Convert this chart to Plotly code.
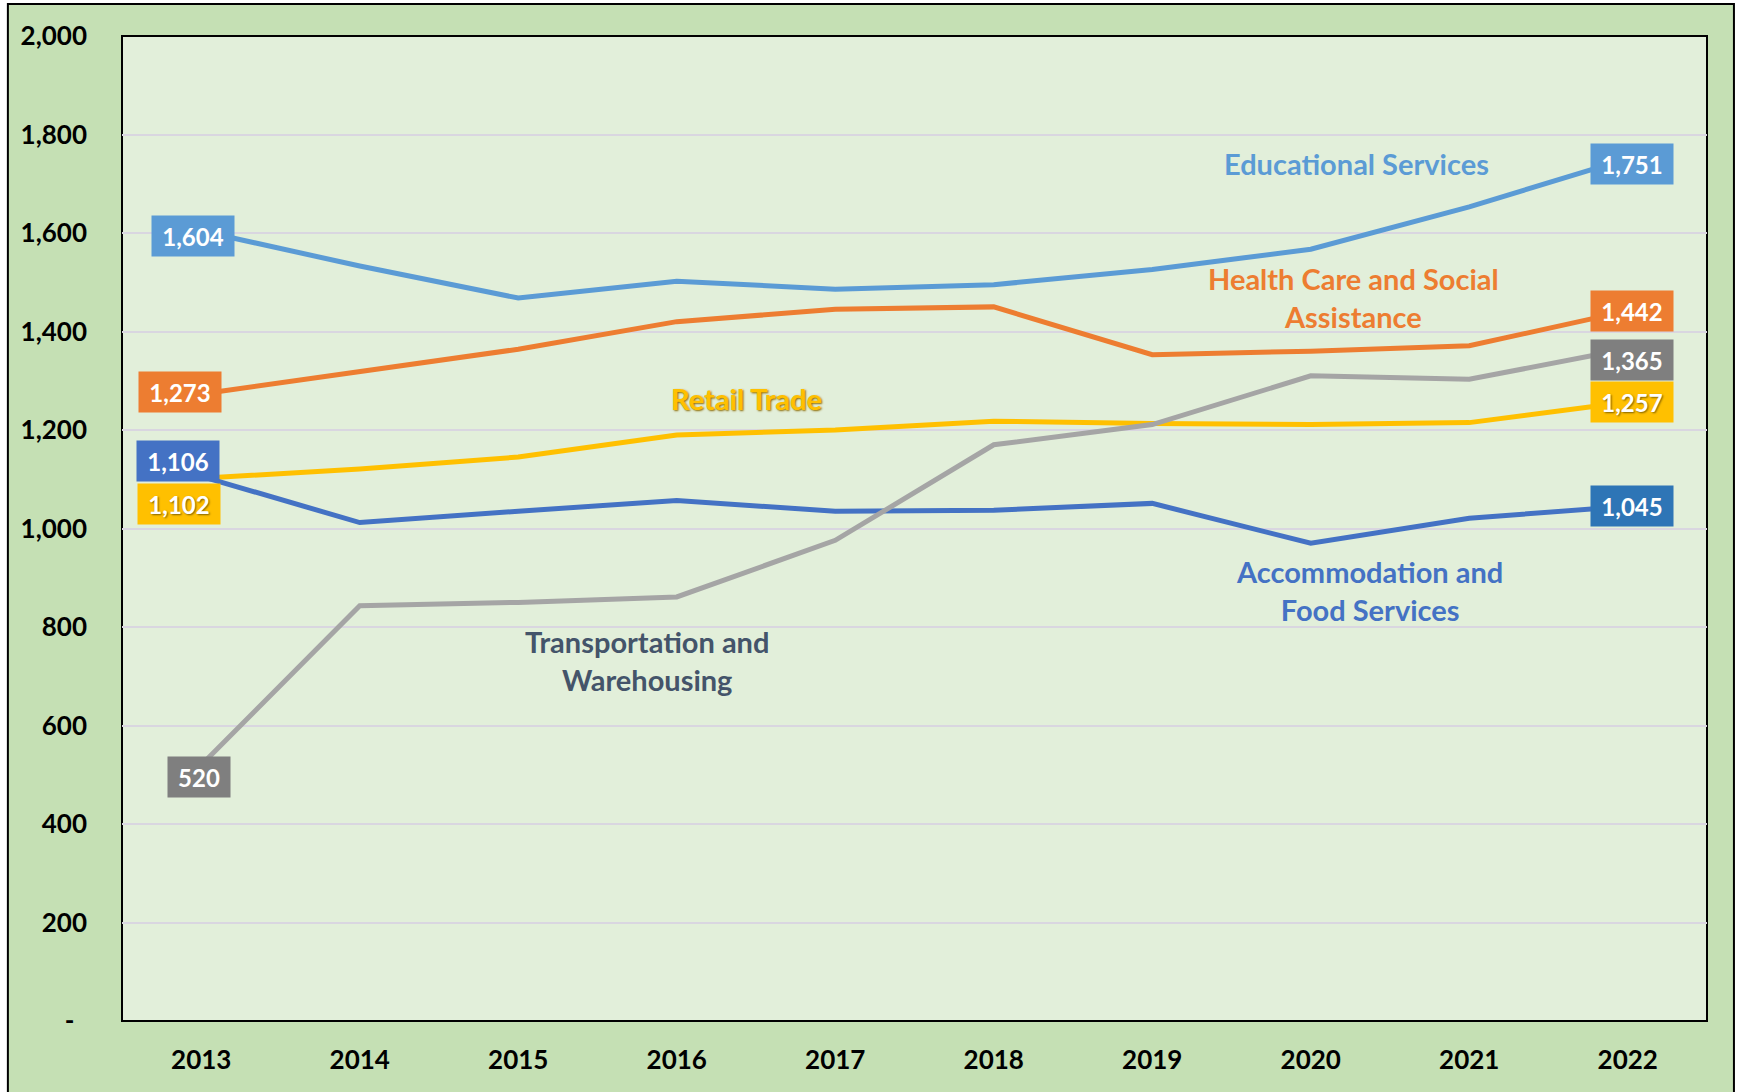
import plotly.graph_objects as go

years = ["2013", "2014", "2015", "2016", "2017", "2018", "2019", "2020", "2021", "2022"]

educational = [1604, 1533, 1468, 1502, 1486, 1495, 1526, 1567, 1653, 1751]
health_care = [1273, 1319, 1364, 1420, 1445, 1450, 1353, 1360, 1371, 1442]
retail = [1102, 1121, 1145, 1190, 1200, 1218, 1213, 1211, 1215, 1257]
accommodation = [1106, 1012, 1035, 1057, 1035, 1037, 1051, 970, 1021, 1045]
transportation = [520, 843, 850, 861, 976, 1170, 1211, 1310, 1303, 1365]

ytick_vals = [0, 200, 400, 600, 800, 1000, 1200, 1400, 1600, 1800, 2000]
ytick_text = ["-\u00a0\u00a0", "200", "400", "600", "800", "1,000", "1,200", "1,400", "1,600", "1,800", "2,000"]

FONT = "Lato"

series = [
    ("Educational Services", educational, "#5B9BD5"),
    ("Health Care and Social Assistance", health_care, "#ED7D31"),
    ("Retail Trade", retail, "#FFC000"),
    ("Accommodation and Food Services", accommodation, "#4472C4"),
    ("Transportation and Warehousing", transportation, "#A5A5A5"),
]

fig = go.Figure()
for name, vals, col in series:
    fig.add_trace(go.Scatter(x=years, y=vals, mode="lines", name=name,
                             line=dict(color=col, width=5), showlegend=False,
                             hoverinfo="skip"))

# Background shapes: outer frame and plot area
fig.add_shape(type="rect", xref="paper", yref="paper", x0=-0.072, x1=1.017, y0=-0.1, y1=1.0325,
              fillcolor="#C5E0B4", line=dict(color="black", width=2), layer="below")
fig.add_shape(type="rect", xref="paper", yref="paper", x0=0, x1=1, y0=0, y1=1,
              fillcolor="#E2EFDA", line=dict(color="black", width=2), layer="below")

first, last = 0, len(years) - 1


def val_label(idx, y, bg, xshift=0, yshift=0, shadow=None):
    f = dict(family=FONT, size=24, color="white", weight="bold")
    if shadow:
        f["shadow"] = shadow
    text = f"{y:,}"
    w = 76 if len(text) > 3 else 56
    fig.add_annotation(x=idx, y=y, text=text, showarrow=False, bgcolor=bg,
                       width=w, height=34, borderpad=3, align="center",
                       xshift=xshift, yshift=yshift, font=f)


# 2013 labels
val_label(first, educational[first], "#5B9BD5", -8, -5)
val_label(first, health_care[first], "#ED7D31", -21, 2)
val_label(first, accommodation[first], "#4472C4", -23, 15)
val_label(first, retail[first], "#FFC000", -22, -26, shadow="1px 1px 2px #7F6000")
val_label(first, transportation[first], "#7F7F7F", -2, -12)
# 2022 labels
val_label(last, educational[last], "#5B9BD5", 4, -5)
val_label(last, health_care[last], "#ED7D31", 4, 0)
val_label(last, transportation[last], "#7F7F7F", 4, -11)
val_label(last, retail[last], "#FFC000", 4, 0, shadow="1px 1px 2px #7F6000")
val_label(last, accommodation[last], "#2E75B6", 4, 0)


# Series name labels
def name_label(x, y, text, col, shadow=None):
    f = dict(family=FONT, size=29, color=col, weight="bold")
    if shadow:
        f["shadow"] = shadow
    fig.add_annotation(x=x, y=y, text=text, showarrow=False, align="center", font=f)


name_label(7.29, 1742, "Educational Services", "#5B9BD5")
name_label(7.27, 1470, "Health Care and Social<br>Assistance", "#ED7D31")
name_label(3.44, 1263, "Retail Trade", "#FFC000", shadow="1px 1px 2px #8C6A00")
name_label(2.81, 733, "Transportation and<br>Warehousing", "#44546A")
name_label(7.37, 875, "Accommodation and<br>Food Services", "#4472C4")

fig.update_layout(
    width=1741, height=1092,
    margin=dict(l=122, r=34, t=36, b=71),
    paper_bgcolor="white",
    plot_bgcolor="rgba(0,0,0,0)",
    xaxis=dict(type="category", range=[-0.5, 9.5], showgrid=False, zeroline=False,
               showline=False, ticks="", ticklabelstandoff=21,
               tickfont=dict(family=FONT, size=26, color="black", weight="bold")),
    yaxis=dict(range=[0, 2000], tickvals=ytick_vals, ticktext=ytick_text,
               showgrid=True, gridcolor="#D9D6E0", gridwidth=2, zeroline=False,
               showline=False, ticks="", ticklabelstandoff=34,
               tickfont=dict(family=FONT, size=26, color="black", weight="bold")),
)

fig.write_html("out.html", config={"displayModeBar": False},
               post_script="document.body.style.margin='0px';")
